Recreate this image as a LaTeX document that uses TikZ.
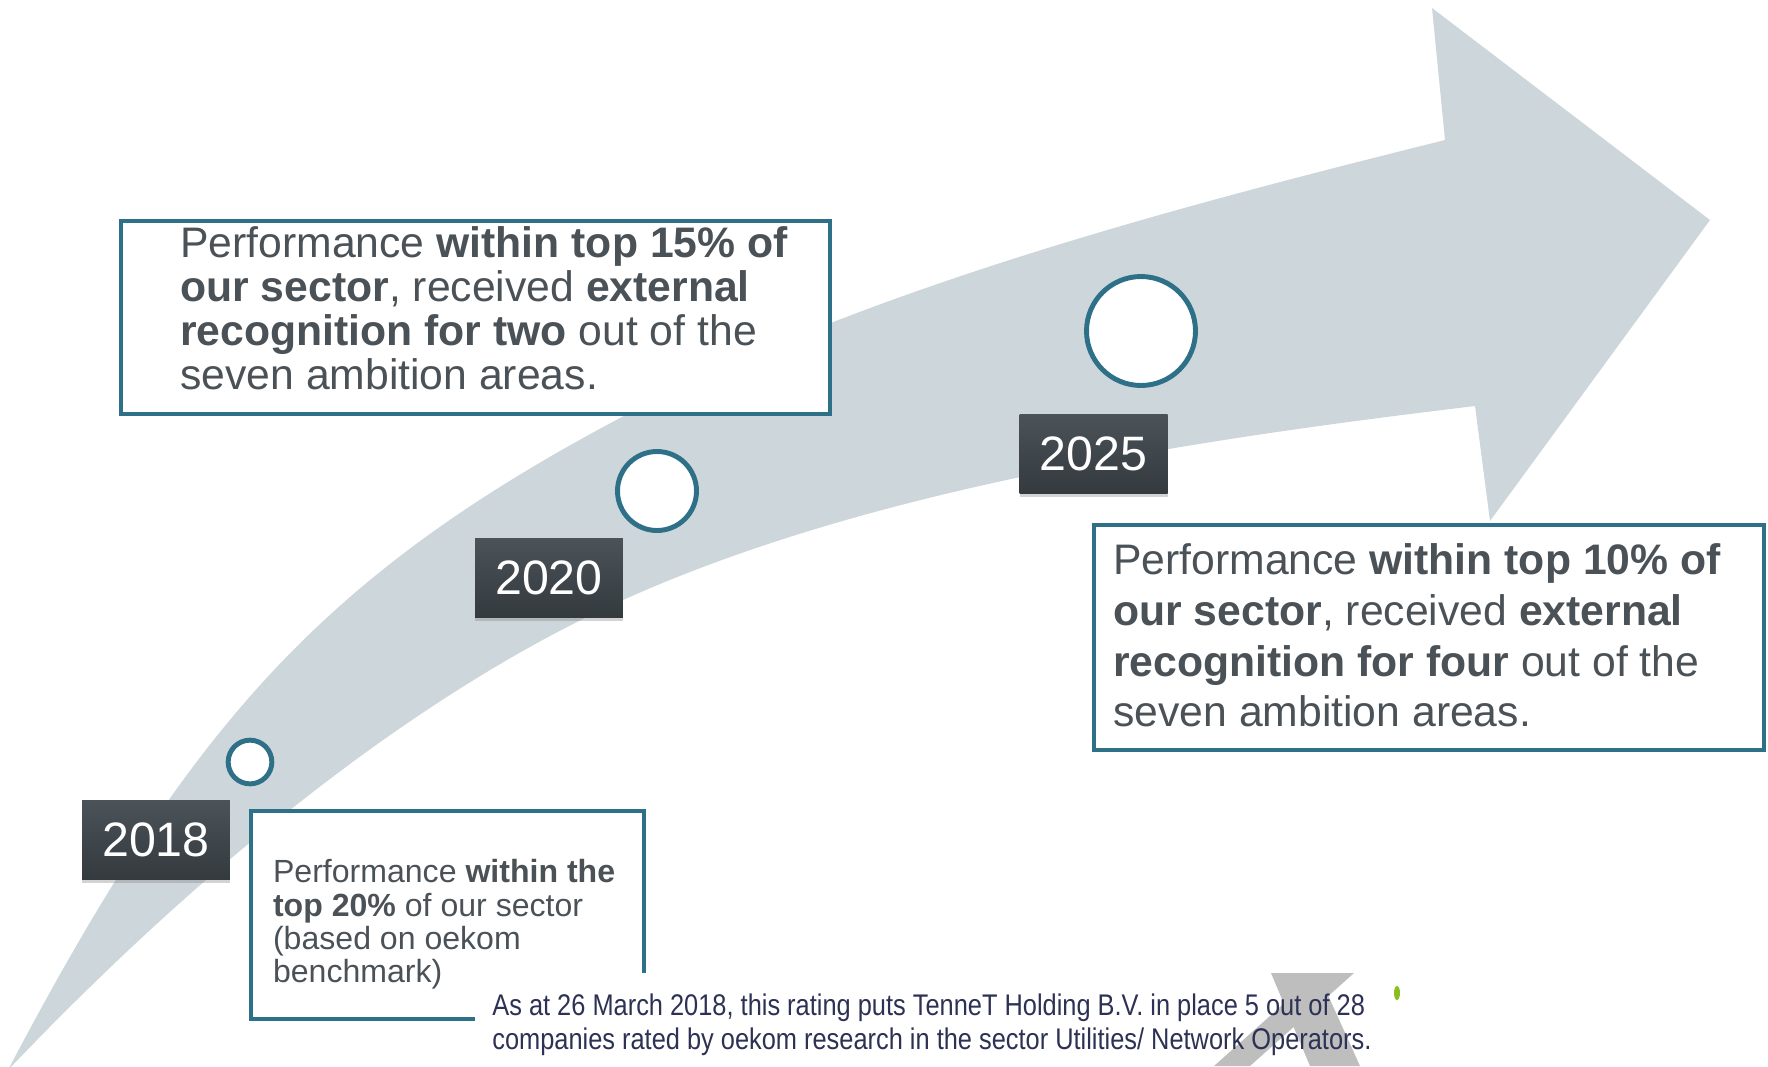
\documentclass[tikz,border=0pt]{standalone}
\usepackage{fontspec}
\setmainfont{Liberation Sans}
\newfontfamily\notefont[FakeStretch=0.85]{Liberation Sans}
\usetikzlibrary{shadows}

\definecolor{bandgray}{RGB}{205,214,219}
\definecolor{ringteal}{RGB}{46,112,135}
\definecolor{boxtop}{RGB}{75,83,89}
\definecolor{boxbottom}{RGB}{52,58,62}
\definecolor{bodygray}{RGB}{75,82,87}
\definecolor{notenavy}{RGB}{45,50,85}
\definecolor{logogray}{RGB}{190,190,190}
\definecolor{logogreen}{RGB}{140,190,30}

\begin{document}
\begin{tikzpicture}
	[x=0.02cm, y=-0.02cm,
	 yearbox/.style={rectangle, top color=boxtop, bottom color=boxbottom, text=white,
	   minimum width=2.96cm, minimum height=1.58cm, inner sep=0pt,
	   font=\fontsize{27.5}{30}\selectfont,
	   drop shadow={shadow xshift=0pt, shadow yshift=-2.5pt, opacity=.35}},
	 ring/.style={circle, draw=ringteal, line width=2.8pt, fill=white, inner sep=0pt},
	 framebox/.style={rectangle, draw=ringteal, line width=2.3pt, fill=white, inner sep=0pt},
	 bodytext/.style={text=bodygray, align=left, inner sep=0pt},
	 notetext/.style={anchor=base west, inner sep=0pt, text=notenavy,
	   font=\notefont\fontsize{17}{19}\selectfont}]
   \useasboundingbox (0,0) rectangle (1768,1066);
   \clip (0,0) rectangle (1768,1066);

   % the rising band and its head
   \fill[bandgray] (8,1070) .. controls (188,728) and (320,577) .. (620,418)
      .. controls (870,285.5) and (1195,202.5) .. (1445,140)
      -- (1432,8) -- (1710,220) -- (1490,521) -- (1475,406)
      .. controls (1195,439.6) and (873,487.5) .. (623,600)
      .. controls (423,690) and (208,860) .. (8,1070) -- cycle;

   % milestones
   \node[ring, minimum size=0.874cm] (r_18) at (250,762) {};
   \node[ring, minimum size=1.58cm] (r_20) at (657,491) {};
   \node[ring, minimum size=2.18cm] (r_25) at (1141,331) {};

   \node[yearbox] (y_18) at (156,839.5) {2018};
   \node[yearbox] (y_20) at (549,577.5) {2020};
   \node[yearbox] (y_25) at (1093.5,453.5) {2025};

   % ambition boxes
   \node[framebox, minimum width=14.18cm, minimum height=3.86cm] (b_20) at (475.5,317.5) {};
   \node[bodytext, font=\fontsize{24.3}{25}\selectfont] (t_20) at ([shift={(8.5,-9)}]b_20.center)
     {Performance \textbf{within top 15\% of}\\
      \textbf{our sector}, received \textbf{external}\\
      \textbf{recognition for two} out of the\\
      seven ambition areas.};
   \node[framebox, minimum width=13.4cm, minimum height=4.5cm] (b_25) at (1429,637.5) {};
   \node[bodytext, font=\fontsize{24.3}{28.8}\selectfont] (t_25) at ([shift={(-12,-2)}]b_25.center)
     {Performance \textbf{within top 10\% of}\\
      \textbf{our sector}, received \textbf{external}\\
      \textbf{recognition for four} out of the\\
      seven ambition areas.};
   \node[framebox, minimum width=7.86cm, minimum height=4.16cm] (b_18) at (447.5,915) {};
   \node[bodytext, font=\fontsize{18.25}{19}\selectfont] (t_18) at ([shift={(-3.4,9.5)}]b_18.center)
     {Performance \textbf{within the}\\
      \textbf{top 20\%} of our sector\\
      (based on oekom\\
      benchmark)};

   % rating note, set on its own white patch
   \fill[white] (475,973) rectangle (1410,1066);
   \fill[logogray] (1318,973) -- (1354,973) -- (1250,1066) -- (1214,1066) -- cycle;
   \fill[logogray] (1271,973) -- (1318,973) -- (1360,1066) -- (1310,1066) -- cycle;
   \fill[logogreen] (1397,993) ellipse (3 and 7);
   \node[notetext] (n_1) at (492,1015)
     {As at 26 March 2018, this rating puts TenneT Holding B.V. in place 5 out of 28};
   \node[notetext] (n_2) at (492,1049)
     {companies rated by oekom research in the sector Utilities/ Network Operators.};
\end{tikzpicture}
\end{document}
